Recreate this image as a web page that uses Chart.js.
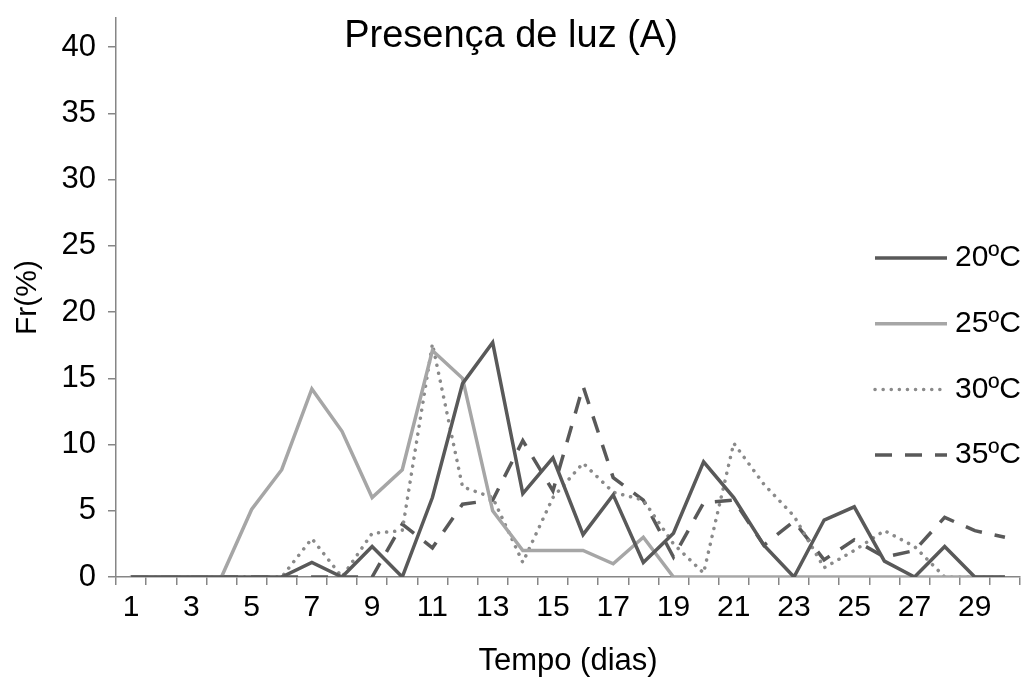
<!DOCTYPE html>
<html>
<head>
<meta charset="utf-8">
<script src="https://cdn.jsdelivr.net/npm/chart.js@4.4.1/dist/chart.umd.min.js"></script>
<style>
html, body { margin: 0; padding: 0; background: #fff; }
#wrap { width: 1025px; height: 682px; position: relative; }
</style>
</head>
<body>
<div id="wrap"><canvas id="myChart"></canvas></div>
<script>
// days 1..30
const days = ['1','2','3','4','5','6','7','8','9','10','11','12','13','14','15',
	'16','17','18','19','20','21','22','23','24','25','26','27','28','29','30'];

const fr20 = [0,0,0,0,0,0,1.1,0,2.3,0,6.0,14.6,17.7,6.3,9.0,3.2,6.2,1.1,3.3,8.7,6.0,2.4,0,4.3,5.3,1.2,0,2.3,0,0];
const fr25 = [0,0,0,0,5.1,8.1,14.2,11.0,6.0,8.1,17.1,15.0,5.0,2.0,2.0,2.0,1.0,3.0,0,0,0,0,0,0,0,0,0,0,0,0];
const fr30 = [0,0,0,0,0,0,2.9,0,3.3,3.5,17.6,6.8,6.0,1.1,6.0,8.6,6.4,5.8,2.5,0.3,10.1,7.0,4.6,0.7,2.0,3.5,2.3,0,0,0];
const fr35 = [0,0,0,0,0,0,0,0,0,4.0,2.2,5.5,5.8,10.3,6.5,14.4,7.5,5.8,1.5,5.6,5.8,2.4,4.2,1.3,2.8,1.5,2.0,4.5,3.5,3.0];

const seriesNames = ['20ºC', '25ºC', '30ºC', '35ºC'];
const yTicks = [0, 5, 10, 15, 20, 25, 30, 35, 40];

const chartTitle = 'Presença de luz (A)';
const FONT = '"Liberation Sans", Arial, sans-serif';
const AXIS = '#868686';

// title + legend drawn over the plot, like the original
const overlay = {
	id: 'overlay',
	afterDraw(chart) {
		const ctx = chart.ctx;
		ctx.save();
		ctx.fillStyle = '#000';
		ctx.font = '38px ' + FONT;
		ctx.textAlign = 'center';
		ctx.textBaseline = 'middle';
		ctx.fillText(chartTitle, 511, 37);
		ctx.restore();

		chart.data.datasets.forEach((ds, i) => {
			const y = 258 + i * 65.7;
			ctx.save();
			ctx.strokeStyle = ds.borderColor;
			ctx.lineWidth = ds.borderWidth;
			ctx.lineCap = ds.borderCapStyle || 'butt';
			ctx.setLineDash(ds.borderDash || []);
			ctx.beginPath();
			ctx.moveTo(875, y);
			ctx.lineTo(947, y);
			ctx.stroke();
			ctx.setLineDash([]);
			ctx.fillStyle = '#000';
			ctx.font = '30px ' + FONT;
			ctx.textAlign = 'left';
			ctx.textBaseline = 'middle';
			ctx.fillText(ds.label, 955, y);
			ctx.restore();
		});
	}
};

const config = {
	type: 'line',
	data: {
		labels: days,
		datasets: [
			{label: seriesNames[0], data: fr20, borderColor: '#595959', borderWidth: 3.5},
			{label: seriesNames[1], data: fr25, borderColor: '#a6a6a6', borderWidth: 3.5},
			{label: seriesNames[2], data: fr30, borderColor: '#8a8a8a', borderWidth: 3.5, borderDash: [0.1, 8], borderCapStyle: 'round'},
			{label: seriesNames[3], data: fr35, borderColor: '#595959', borderWidth: 3.5, borderDash: [17, 13]}
		]
	},
	options: {
		responsive: true,
		maintainAspectRatio: false,
		animation: false,
		layout: {padding: {top: 18, right: 5, left: 0, bottom: 0}},
		elements: {
			point: {radius: 0},
			line: {tension: 0, borderJoinStyle: 'miter'}
		},
		plugins: {
			legend: {display: false},
			title: {display: false},
			tooltip: {enabled: false}
		},
		scales: {
			x: {
				type: 'category',
				offset: true,
				grid: {offset: true, drawOnChartArea: false, tickLength: 8, color: AXIS, lineWidth: 1.5},
				border: {color: AXIS, width: 1.5},
				ticks: {
					autoSkip: false, maxRotation: 0, color: '#000', padding: 5,
					font: {size: 30, family: FONT},
					callback: (v, i) => (i % 2 === 0 ? days[i] : '')
				},
				title: {display: true, text: 'Tempo (dias)', color: '#000', font: {size: 31, family: FONT}, padding: {top: 0, bottom: 2}},
				afterFit: s => { s.height = 105; }
			},
			y: {
				min: 0,
				max: 42.2,
				afterBuildTicks: s => { s.ticks = yTicks.map(v => ({value: v})); },
				grid: {drawOnChartArea: false, tickLength: 8, color: AXIS, lineWidth: 1.5},
				border: {color: AXIS, width: 1.5},
				ticks: {color: '#000', padding: 12, font: {size: 31, family: FONT}},
				title: {display: true, text: 'Fr(%)', color: '#000', font: {size: 30, family: FONT}, padding: {top: 10, bottom: 0}},
				afterFit: s => { s.width = 116; s.paddingTop = 0; }
			}
		}
	},
	plugins: [overlay]
};

const chartt = new Chart(document.getElementById('myChart'), config);
</script>
</body>
</html>
